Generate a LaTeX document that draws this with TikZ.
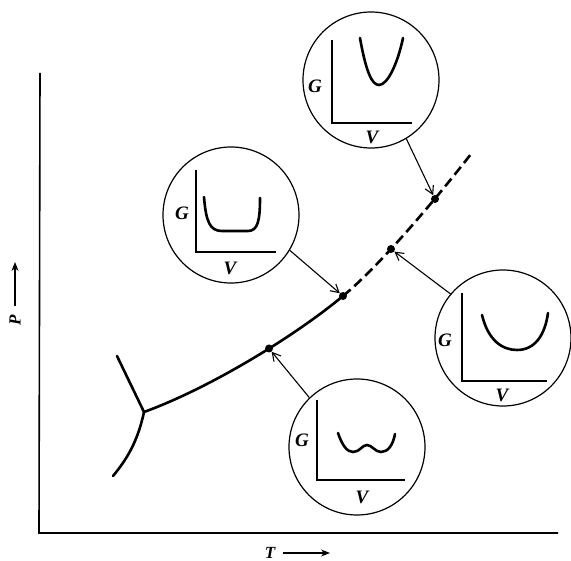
\documentclass[tikz,border=0pt]{standalone}
\usepackage{fontspec}
\setmainfont{Liberation Serif}
\usetikzlibrary{arrows.meta}
\tikzset{
  bubble/.style={circle, draw, line width=1.2pt, minimum size=136pt, inner sep=0pt},
  inaxis/.style={line width=1.6pt},
  incurve/.style={line width=2.6pt, line cap=round},
  lbl/.style={font=\fontsize{19}{19}\selectfont\bfseries\itshape, inner sep=0pt},
  axlbl/.style={font=\fontsize{17}{17}\selectfont\bfseries\itshape, inner sep=0pt},
  dotn/.style={circle, fill, minimum size=8pt, inner sep=0pt},
  pointer/.style={line width=1.1pt, -{Straight Barb[length=8pt,width=9pt,line width=1.1pt]}},
  phase/.style={line width=2.6pt, line cap=round},
}
\begin{document}
\begin{tikzpicture}[x=1pt,y=-1pt]
\useasboundingbox (0,0) rectangle (571,561);
% main axes
\coordinate (otop) at (40,73);
\coordinate (orig) at (39,533);
\coordinate (oright) at (558,533);
\draw[line width=1.6pt] (otop) -- (orig) -- (oright);
% axis labels
\node[axlbl] (Tl) at (270,553) {T};
\coordinate (Ta) at (283,553);
\coordinate (Tb) at (330,553);
\draw[line width=1.2pt, -{Stealth[length=9pt,width=7pt]}] (Ta) -- (Tb);
\node[axlbl, rotate=90] (Pl) at (15,320) {P};
\coordinate (Pa) at (15,306);
\coordinate (Pb) at (15,262);
\draw[line width=1.2pt, -{Stealth[length=9pt,width=7pt]}] (Pa) -- (Pb);
% phase lines
\coordinate (tp) at (144,412);
\coordinate (up) at (117,356);
\coordinate (lo) at (113,476);
\coordinate (mid) at (343,296);
\coordinate (tip) at (471,154);
\draw[phase] (up) -- (tp);
\draw[phase] (tp) .. controls (138,440) and (128,458) .. (lo);
\draw[phase] (tp) .. controls (210,388) and (295,336) .. (mid);
\draw[phase, line cap=butt, dash pattern=on 10pt off 5pt] (mid) .. controls (383,263) and (443,190) .. (tip);
\node[dotn] (d1) at (269,348.5) {};
\node[dotn] (d2) at (343,296) {};
\node[dotn] (d3) at (391,249) {};
\node[dotn] (d4) at (435,199) {};
% circle 1 (top)
\node[bubble] (c1) at (371,80) {};
\draw[inaxis] (332,40) -- (332,123) -- (412,123);
\draw[incurve] (360,38) .. controls (366,72) and (372,85) .. (379,85) .. controls (388,85) and (398,62) .. (403,38);
\node[lbl] (g1) at (315,86) {G};
\node[lbl] (v1) at (372,137) {V};
\draw[pointer] (c1.-59) -- (d4);
% circle 2 (left)
\node[bubble] (c2) at (231,215) {};
\draw[inaxis] (196,170) -- (196,252) -- (276,252);
\draw[incurve] (204,197) .. controls (206,222) and (210,231) .. (222,231) -- (248,231) .. controls (258,231) and (260,220) .. (260,198);
\node[lbl] (g2) at (182,213) {G};
\node[lbl] (v2) at (230,268) {V};
\draw[pointer] (c2.-31) -- (d2);
% circle 3 (right)
\node[bubble] (c3) at (503,338) {};
\draw[inaxis] (462,293) -- (462,381) -- (547,381);
\draw[incurve] (482,315) .. controls (488,340) and (502,350) .. (517,350) .. controls (535,350) and (545,335) .. (548,313);
\node[lbl] (g3) at (445,340) {G};
\node[lbl] (v3) at (502,395) {V};
\draw[pointer] (c3.140) -- (d3);
% circle 4 (bottom)
\node[bubble] (c4) at (357,447) {};
\draw[inaxis] (317,400) -- (317,480) -- (405,480);
\draw[incurve] (338,433) .. controls (342,445) and (347,452) .. (353,452) .. controls (360,452) and (362,445) .. (367,445) .. controls (372,445) and (375,452) .. (381,452) .. controls (388,452) and (393,445) .. (395,434);
\node[lbl] (g4) at (302,440) {G};
\node[lbl] (v4) at (362,497) {V};
\draw[pointer] (c4.134) -- (d1);
\end{tikzpicture}
\end{document}
